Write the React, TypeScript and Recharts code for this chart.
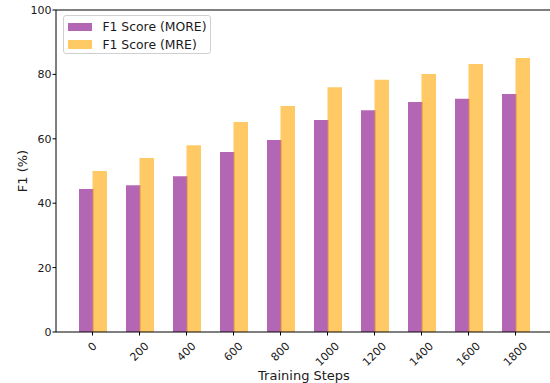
import React from 'react';
import { BarChart, Bar, XAxis, YAxis, ReferenceLine, Legend, Label } from 'recharts';

const steps = [0, 200, 400, 600, 800, 1000, 1200, 1400, 1600, 1800];
const moreScores = [44.4, 45.6, 48.4, 55.9, 59.6, 65.8, 68.9, 71.4, 72.4, 73.9];
const mreScores = [50.0, 54.0, 58.0, 65.2, 70.2, 76.0, 78.3, 80.1, 83.2, 85.1];
const yTicks = [0, 20, 40, 60, 80, 100];
const seriesNames = ['F1 Score (MORE)', 'F1 Score (MRE)'];

const data = steps.map((s, i) => ({ step: s, more: moreScores[i], mre: mreScores[i] }));

const FONT = 'DejaVu Sans, sans-serif';
const TXT = '#1a1a1a';

const XTick = (props: any) => {
  const { x, y, payload } = props;
  const label = String(payload.value);
  const w = label.length * 7;
  const h = 11;
  const boxH = (w + h) / Math.SQRT2;
  const top = y + 3;
  const cy = top + boxH / 2;
  return (
    <text
      transform={`translate(${x}, ${cy}) rotate(-45)`}
      textAnchor="middle"
      dominantBaseline="central"
      fontSize={11}
      fontFamily={FONT}
      fill={TXT}
    >
      {label}
    </text>
  );
};

const LegendBox = () => (
  <div
    style={{
      border: '1px solid #d0d0d0',
      borderRadius: 3,
      background: 'rgba(255,255,255,0.8)',
      width: 148,
      height: 39,
      boxSizing: 'border-box',
      position: 'relative',
      fontFamily: FONT,
      fontSize: 12.4,
      color: TXT,
    }}
  >
    {seriesNames.map((n, i) => (
      <div key={n} style={{ position: 'absolute', left: 4, top: 5 + i * 17.6, height: 12, display: 'flex', alignItems: 'center' }}>
        <div
          style={{
            width: 24.4,
            height: 8.7,
            background: i === 0 ? 'rgba(128,0,128,0.6)' : 'rgba(255,165,0,0.6)',
          }}
        />
        <span style={{ marginLeft: 10, whiteSpace: 'nowrap', lineHeight: '12px' }}>{n}</span>
      </div>
    ))}
  </div>
);

export default function App() {
  return (
    <div style={{ position: 'fixed', left: 0, top: 0, width: 550, height: 383, overflow: 'hidden', background: '#fff' }}>
      <BarChart
        width={560}
        height={383}
        data={data}
        margin={{ top: 10, right: 8, left: 0, bottom: 0 }}
        barGap={-1}
        barSize={14.5}
      >
        <XAxis
          dataKey="step"
          type="category"
          interval={0}
          padding={{ left: 13, right: 13 }}
          height={51}
          tickSize={3.5}
          tick={<XTick />}
          axisLine={{ stroke: '#000', strokeWidth: 1 }}
          tickLine={{ stroke: '#000', strokeWidth: 1 }}
        >
          <Label
            content={(p: any) => {
              const vb = p.viewBox;
              return (
                <text x={vb.x + vb.width / 2} y={380} textAnchor="middle" fontSize={13} fontFamily={FONT} fill={TXT}>
                  Training Steps
                </text>
              );
            }}
          />
        </XAxis>
        <YAxis
          type="number"
          domain={[0, 100]}
          ticks={yTicks}
          width={56}
          tickSize={3.5}
          tickMargin={1}
          interval={0}
          tick={{ fontSize: 11, fontFamily: FONT, fill: TXT }}
          axisLine={{ stroke: '#000', strokeWidth: 1 }}
          tickLine={{ stroke: '#000', strokeWidth: 1 }}
        >
          <Label
            content={(p: any) => {
              const vb = p.viewBox;
              const cy = vb.y + vb.height / 2;
              return (
                <text
                  transform={`translate(22, ${cy}) rotate(-90)`}
                  textAnchor="middle"
                  dominantBaseline="central"
                  fontSize={13}
                  fontFamily={FONT}
                  fill={TXT}
                >
                  F1 (%)
                </text>
              );
            }}
          />
        </YAxis>
        <ReferenceLine y={100} stroke="#000" strokeWidth={1} ifOverflow="visible" />
        <Bar dataKey="more" name={seriesNames[0]} fill="#800080" fillOpacity={0.6} isAnimationActive={false} />
        <Bar dataKey="mre" name={seriesNames[1]} fill="#ffa500" fillOpacity={0.6} isAnimationActive={false} />
        <Legend
          layout="vertical"
          align="center"
          verticalAlign="middle"
          content={<LegendBox />}
          wrapperStyle={{ position: 'absolute', left: 63, top: 15, width: 148, height: 39, margin: 0 }}
        />
      </BarChart>
    </div>
  );
}
